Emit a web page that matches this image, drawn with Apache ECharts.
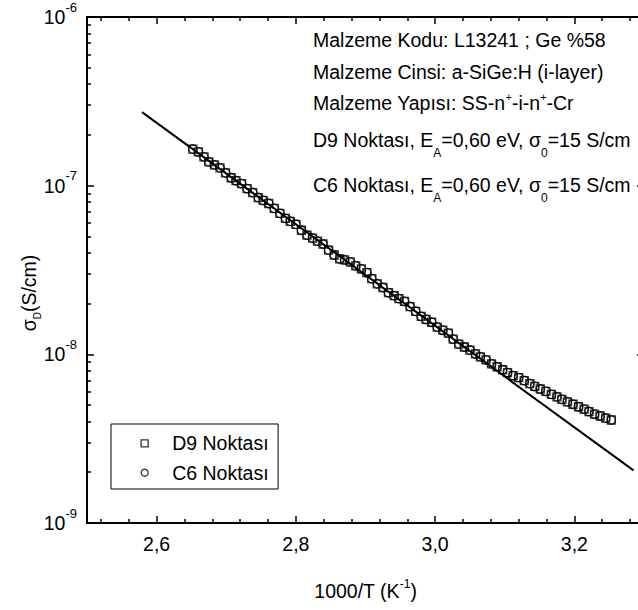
<!DOCTYPE html>
<html>
<head>
<meta charset="utf-8">
<title>σD - 1000/T</title>
<script src="https://cdn.jsdelivr.net/npm/echarts@6/dist/echarts.min.js"></script>
<style>
  html, body { margin: 0; padding: 0; background: #fff; }
  #chart { width: 638px; height: 610px; }
</style>
</head>
<body>
<div id="chart"></div>
<script>
// 1000/T (K^-1)
const invTemp = [
  2.652, 2.660, 2.668, 2.675, 2.683, 2.691, 2.699, 2.707, 2.714, 2.722,
  2.730, 2.738, 2.746, 2.753, 2.761, 2.769, 2.777, 2.785, 2.792, 2.800,
  2.808, 2.816, 2.824, 2.831, 2.839, 2.847, 2.855, 2.863, 2.870, 2.878,
  2.886, 2.894, 2.902, 2.909, 2.917, 2.925, 2.933, 2.941, 2.948, 2.956,
  2.964, 2.972, 2.980, 2.987, 2.995, 3.003, 3.011, 3.019, 3.026, 3.034,
  3.042, 3.050, 3.058, 3.065, 3.073, 3.081, 3.089, 3.097, 3.104, 3.112,
  3.120, 3.128, 3.136, 3.143, 3.151, 3.159, 3.167, 3.175, 3.182, 3.190,
  3.198, 3.206, 3.214, 3.221, 3.229, 3.237, 3.245, 3.253
];
// D9 noktası, karanlık iletkenlik (S/cm)
const d9Sigma = [
  1.649e-7, 1.584e-7, 1.480e-7, 1.384e-7, 1.328e-7, 1.276e-7, 1.192e-7, 1.114e-7, 1.070e-7, 1.028e-7,
  9.60e-8, 9.10e-8, 8.50e-8, 8.17e-8, 7.84e-8, 7.33e-8, 6.85e-8, 6.40e-8, 6.15e-8, 5.90e-8,
  5.44e-8, 5.09e-8, 4.89e-8, 4.69e-8, 4.51e-8, 4.15e-8, 3.88e-8, 3.68e-8, 3.63e-8, 3.53e-8,
  3.35e-8, 3.21e-8, 3.05e-8, 2.81e-8, 2.62e-8, 2.49e-8, 2.32e-8, 2.23e-8, 2.14e-8, 2.06e-8,
  1.92e-8, 1.80e-8, 1.68e-8, 1.61e-8, 1.55e-8, 1.45e-8, 1.39e-8, 1.335e-8, 1.23e-8, 1.15e-8,
  1.105e-8, 1.06e-8, 1.005e-8, 9.66e-9, 9.27e-9, 8.78e-9, 8.44e-9, 8.10e-9, 7.78e-9, 7.47e-9,
  7.28e-9, 6.99e-9, 6.71e-9, 6.45e-9, 6.23e-9, 6.03e-9, 5.79e-9, 5.60e-9, 5.41e-9, 5.23e-9,
  5.06e-9, 4.89e-9, 4.73e-9, 4.58e-9, 4.42e-9, 4.31e-9, 4.19e-9, 4.08e-9
];
// C6 noktası (sits on top of D9 in the plot)
const c6Sigma = [
  1.649e-7, 1.584e-7, 1.480e-7, 1.384e-7, 1.328e-7, 1.276e-7, 1.192e-7, 1.114e-7, 1.070e-7, 1.028e-7,
  9.60e-8, 9.10e-8, 8.50e-8, 8.17e-8, 7.84e-8, 7.33e-8, 6.85e-8, 6.40e-8, 6.15e-8, 5.90e-8,
  5.44e-8, 5.09e-8, 4.89e-8, 4.69e-8, 4.51e-8, 4.15e-8, 3.88e-8, 3.68e-8, 3.63e-8, 3.53e-8,
  3.35e-8, 3.21e-8, 3.05e-8, 2.81e-8, 2.62e-8, 2.49e-8, 2.32e-8, 2.23e-8, 2.14e-8, 2.06e-8,
  1.92e-8, 1.80e-8, 1.68e-8, 1.61e-8, 1.55e-8, 1.45e-8, 1.39e-8, 1.335e-8, 1.23e-8, 1.15e-8,
  1.105e-8, 1.06e-8, 1.005e-8, 9.66e-9, 9.27e-9, 8.78e-9, 8.44e-9, 8.10e-9, 7.78e-9, 7.47e-9,
  7.28e-9, 6.99e-9, 6.71e-9, 6.45e-9, 6.23e-9, 6.03e-9, 5.79e-9, 5.60e-9, 5.41e-9, 5.23e-9,
  5.06e-9, 4.89e-9, 4.73e-9, 4.58e-9, 4.42e-9, 4.31e-9, 4.19e-9, 4.08e-9
];
// Arrhenius fit line (E_A = 0,60 eV)
const fitX = [2.579, 3.285];
const fitSigma = [2.73e-7, 2.05e-9];

const xMajorTicks = [2.6, 2.8, 3.0, 3.2];
const xMinorTicks = [2.52, 2.56, 2.64, 2.68, 2.72, 2.76, 2.84, 2.88, 2.92, 2.96, 3.04, 3.08, 3.12, 3.16, 3.24, 3.28];
const yDecades = [-9, -8, -7];
const yMinorMantissa = [2, 3, 4, 5, 6, 7, 8, 9];

const infoLines = [
  'Malzeme Kodu: L13241 ; Ge %58',
  'Malzeme Cinsi: a-SiGe:H (i-layer)',
  'Malzeme Yapısı: SS-n{sup|+}-i-n{sup|+}-Cr',
  'D9 Noktası, E{sub|A}=0,60 eV, σ{sub|0}=15 S/cm',
  'C6 Noktası, E{sub|A}=0,60 eV, σ{sub|0}=15 S/cm'
];
const infoY = [40, 72, 103, 140, 185];

const FONT = 'Liberation Sans, Arial, sans-serif';
const FS = 19.5;

// minor ticks on the log axis, in log10 units for the overlay axis
const yMinorTicks = [];
yDecades.forEach(d => yMinorMantissa.forEach(m => yMinorTicks.push(d + Math.log10(m))));

const chart = echarts.init(document.getElementById('chart'), null, { renderer: 'svg' });

const black = { color: '#000', width: 2 };
const tickLine = { color: '#000', width: 1.5 };
const hollow = { color: 'rgba(255,255,255,0)', borderColor: '#000', borderWidth: 1.3 };

function xOverlay(position, ticks, len, showLine) {
  return {
    type: 'value', min: 2.5, max: 3.3, position: position,
    axisLine: { show: showLine, onZero: false, lineStyle: black },
    axisTick: { show: true, inside: true, length: len, customValues: ticks, lineStyle: tickLine },
    axisLabel: { show: false },
    splitLine: { show: false }
  };
}

const option = {
  animation: false,
  backgroundColor: '#fff',
  grid: { left: 87, top: 17, width: 557, height: 506, outerBoundsMode: 'none' },
  legend: {
    data: [
      { name: 'D9 Noktası', icon: 'path://M0 0H10V10H0Z' },
      { name: 'C6 Noktası', icon: 'circle' }
    ],
    orient: 'vertical',
    left: 111,
    top: 424,
    padding: [9.3, 9.5, 6.3, 29.5],
    itemWidth: 45,
    itemHeight: 7,
    itemGap: 9.4,
    symbolKeepAspect: true,
    itemStyle: hollow,
    borderColor: '#000',
    borderWidth: 1,
    selectedMode: false,
    textStyle: { fontFamily: FONT, fontSize: FS, color: '#000', lineHeight: 20 }
  },
  xAxis: [
    {
      type: 'value', min: 2.5, max: 3.3, position: 'bottom',
      axisLine: { show: true, onZero: false, lineStyle: black },
      axisTick: { inside: true, length: 7, customValues: xMajorTicks, lineStyle: tickLine },
      axisLabel: {
        customValues: xMajorTicks, margin: 11, color: '#000', fontFamily: FONT, fontSize: FS,
        formatter: v => v.toFixed(1).replace('.', ',')
      },
      splitLine: { show: false },
      name: '1000/T (K{s|-1})',
      nameLocation: 'middle',
      nameGap: 58,
      nameMoveOverlap: false,
      nameTextStyle: {
        fontFamily: FONT, fontSize: FS, color: '#000',
        rich: { s: { fontFamily: FONT, fontSize: 12, lineHeight: 12, padding: [0, 0, 14, 0], verticalAlign: 'middle', color: '#000' } }
      }
    },
    xOverlay('bottom', xMinorTicks, 4, false),
    xOverlay('top', xMajorTicks, 7, true),
    xOverlay('top', xMinorTicks, 4, false)
  ],
  yAxis: [
    {
      type: 'log', logBase: 10, min: 1e-9, max: 1e-6, position: 'left',
      axisLine: { show: true, onZero: false, lineStyle: black },
      axisTick: { inside: true, length: 7, lineStyle: tickLine },
      axisLabel: {
        margin: 10, color: '#000',
        formatter: v => '{b|10}{s|' + Math.round(Math.log10(v)) + '}',
        rich: {
          b: { fontFamily: FONT, fontSize: FS, color: '#000', verticalAlign: 'middle' },
          s: { fontFamily: FONT, fontSize: 13, lineHeight: 13, padding: [0, 0, 20, 0], color: '#000', verticalAlign: 'middle' }
        }
      },
      splitLine: { show: false },
      name: 'σ{d|D}(S/cm)',
      nameLocation: 'middle',
      nameGap: 48,
      nameMoveOverlap: false,
      nameTextStyle: {
        fontFamily: FONT, fontSize: FS, color: '#000',
        padding: [0, 46, 0, 0],
        rich: { d: { fontFamily: FONT, fontSize: 10, lineHeight: 10, padding: [16, 0, 0, 0], verticalAlign: 'middle', color: '#000' } }
      }
    },
    {
      type: 'value', min: -9, max: -6, position: 'left',
      axisLine: { show: false },
      axisTick: { show: true, inside: true, length: 4, customValues: yMinorTicks, lineStyle: tickLine },
      axisLabel: { show: false },
      splitLine: { show: false }
    },
    {
      type: 'log', logBase: 10, min: 1e-9, max: 1e-6, position: 'right',
      axisLine: { show: true, onZero: false, lineStyle: black },
      axisTick: { inside: true, length: 7, lineStyle: tickLine },
      axisLabel: { show: false },
      splitLine: { show: false }
    },
    {
      type: 'value', min: -9, max: -6, position: 'right',
      axisLine: { show: false },
      axisTick: { show: true, inside: true, length: 4, customValues: yMinorTicks, lineStyle: tickLine },
      axisLabel: { show: false },
      splitLine: { show: false }
    }
  ],
  graphic: infoLines.map((line, k) => ({
    type: 'text',
    x: 313,
    y: infoY[k],
    silent: true,
    style: {
      text: line,
      fontFamily: FONT,
      fontSize: FS,
      fill: '#000',
      verticalAlign: 'middle',
      rich: {
        sub: { fontFamily: FONT, fontSize: 12, lineHeight: 12, padding: [26, 0, 0, 0], verticalAlign: 'middle', fill: '#000' },
        sup: { fontFamily: FONT, fontSize: 11, lineHeight: 11, padding: [0, 0, 12, 0], verticalAlign: 'middle', fill: '#000' }
      }
    }
  })),
  series: [
    {
      type: 'line',
      name: 'fit',
      data: fitX.map((x, i) => [x, fitSigma[i]]),
      symbol: 'none',
      lineStyle: { color: '#000', width: 2 },
      silent: true,
      z: 1
    },
    {
      type: 'scatter',
      name: 'D9 Noktası',
      data: invTemp.map((x, i) => [x, d9Sigma[i]]),
      symbol: 'rect',
      symbolSize: 8,
      itemStyle: hollow,
      z: 3
    },
    {
      type: 'scatter',
      name: 'C6 Noktası',
      data: invTemp.map((x, i) => [x, c6Sigma[i]]),
      symbol: 'circle',
      symbolSize: 8.5,
      itemStyle: hollow,
      z: 3
    }
  ]
};

chart.setOption(option);
</script>
</body>
</html>
